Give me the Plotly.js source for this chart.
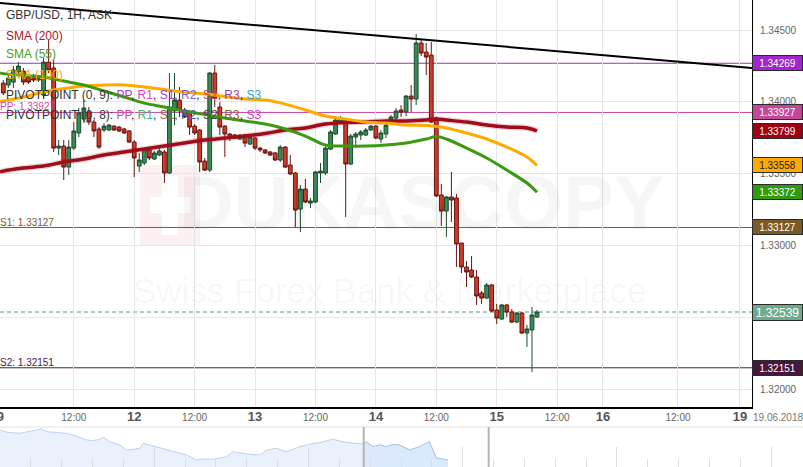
<!DOCTYPE html>
<html><head><meta charset="utf-8">
<script src="https://cdn.plot.ly/plotly-3.0.1.min.js"></script>
<style>html,body{margin:0;padding:0;background:#fff;overflow:hidden}#chart{width:803px;height:467px}</style>
</head><body><div id="chart"></div>
<script>
// ---- hourly GBP/USD candles (ASK) ----
const open = [
1.34131,1.34118,1.34138,1.34208,1.34215,1.34173,1.34180,1.34152,1.34048,1.34277,
1.34236,1.33679,1.33693,1.33547,1.33679,1.33784,1.33881,1.33930,1.33860,1.33812,
1.33805,1.33805,1.33832,1.33825,1.33812,1.33798,1.33721,1.33554,1.33575,1.33666,
1.33603,1.33631,1.33652,1.33506,1.33937,1.34013,1.33944,1.33930,1.33832,1.33805,
1.33589,1.33526,1.34201,1.33965,1.33832,1.33777,1.33770,1.33742,1.33770,1.33707,
1.33749,1.33679,1.33666,1.33652,1.33645,1.33596,1.33686,1.33561,1.33506,1.33255,
1.33394,1.33297,1.33304,1.33506,1.33506,1.33672,1.33777,1.33860,1.33874,1.33568,
1.33756,1.33770,1.33770,1.33805,1.33832,1.33742,1.33777,1.33860,1.33888,1.33944,
1.33930,1.34041,1.34020,1.34410,1.34347,1.34326,1.33888,1.33353,1.33241,1.33339,
1.33332,1.33019,1.32852,1.32831,1.32782,1.32671,1.32636,1.32727,1.32553,1.32490,
1.32588,1.32539,1.32469,1.32532,1.32393,1.32414,1.32504];
const high = [
1.34152,1.34187,1.34250,1.34277,1.34236,1.34187,1.34194,1.34180,1.34305,1.34430,
1.34291,1.33735,1.33735,1.33735,1.33860,1.33958,1.34013,1.33965,1.33874,1.33825,
1.33853,1.33846,1.33839,1.33832,1.33819,1.33805,1.33735,1.33645,1.33679,1.33679,
1.33659,1.33700,1.33666,1.34201,1.34201,1.34104,1.33958,1.33944,1.33846,1.33812,
1.33610,1.34208,1.34257,1.33999,1.33839,1.33784,1.33777,1.33777,1.33777,1.33763,
1.33756,1.33686,1.33672,1.33659,1.33652,1.33700,1.33693,1.33631,1.33513,1.33422,
1.33464,1.33332,1.33519,1.33575,1.33700,1.33805,1.33902,1.33902,1.33881,1.33777,
1.33791,1.33805,1.33819,1.33839,1.33839,1.33805,1.33874,1.33909,1.33958,1.33978,
1.34048,1.34118,1.34472,1.34437,1.34410,1.34417,1.33895,1.33429,1.33346,1.33513,
1.33360,1.33019,1.32894,1.32928,1.32831,1.32685,1.32741,1.32734,1.32595,1.32595,
1.32595,1.32560,1.32539,1.32539,1.32449,1.32574,1.32553];
const low = [
1.34048,1.34097,1.34097,1.34187,1.34118,1.34125,1.34138,1.34138,1.34027,1.34201,
1.33652,1.33631,1.33457,1.33492,1.33666,1.33756,1.33853,1.33839,1.33756,1.33672,
1.33791,1.33798,1.33798,1.33791,1.33777,1.33714,1.33478,1.33513,1.33561,1.33596,
1.33596,1.33624,1.33436,1.33499,1.33839,1.33895,1.33888,1.33770,1.33770,1.33513,
1.33519,1.33513,1.33965,1.33770,1.33617,1.33728,1.33742,1.33735,1.33686,1.33700,
1.33666,1.33652,1.33638,1.33624,1.33589,1.33582,1.33540,1.33492,1.33130,1.33095,
1.33297,1.33262,1.33297,1.33436,1.33492,1.33666,1.33770,1.33853,1.33200,1.33561,
1.33686,1.33735,1.33763,1.33798,1.33742,1.33714,1.33749,1.33839,1.33860,1.33895,
1.33902,1.33930,1.33978,1.34319,1.34187,1.33853,1.33339,1.33137,1.33061,1.33165,
1.32852,1.32810,1.32713,1.32775,1.32588,1.32595,1.32629,1.32539,1.32455,1.32483,
1.32504,1.32462,1.32462,1.32386,1.32296,1.32122,1.32497];
const close = [
1.34062,1.34166,1.34222,1.34250,1.34138,1.34138,1.34152,1.34166,1.34277,1.34222,
1.33679,1.33693,1.33547,1.33686,1.33798,1.33923,1.33958,1.33860,1.33798,1.33686,
1.33832,1.33839,1.33805,1.33798,1.33784,1.33721,1.33610,1.33596,1.33672,1.33610,
1.33645,1.33659,1.33506,1.33965,1.34013,1.33944,1.33895,1.33825,1.33784,1.33582,
1.33526,1.34201,1.34027,1.33825,1.33777,1.33756,1.33749,1.33763,1.33714,1.33756,
1.33679,1.33666,1.33645,1.33631,1.33596,1.33686,1.33547,1.33499,1.33248,1.33394,
1.33304,1.33311,1.33513,1.33519,1.33679,1.33791,1.33874,1.33881,1.33568,1.33763,
1.33777,1.33791,1.33805,1.33832,1.33749,1.33784,1.33839,1.33895,1.33937,1.33930,
1.34041,1.34020,1.34410,1.34340,1.34312,1.33860,1.33346,1.33241,1.33339,1.33318,
1.33012,1.32852,1.32817,1.32782,1.32650,1.32636,1.32727,1.32546,1.32497,1.32588,
1.32539,1.32469,1.32532,1.32393,1.32421,1.32518,1.32539];
const hourIdx = open.map((_, i) => i);

// ---- moving averages, read at sampled candle positions ----
const smaIdx = [-0.65,0,4,8,12,16,20,24,28,32,36,40,44,48,52,56,60,64,68,72,76,80,84,86,88,92,96,100,104,106];
const sma200 = [1.33513,1.33519,1.33540,1.33554,1.33582,1.33603,1.33631,1.33652,1.33672,1.33693,1.33714,1.33735,1.33749,1.33763,1.33780,1.33805,1.33819,1.33846,1.33857,1.33860,1.33867,1.33867,1.33874,1.33881,1.33874,1.33860,1.33839,1.33825,1.33819,1.33799];
const sma55  = [1.34201,1.34197,1.34184,1.34173,1.34145,1.34118,1.34076,1.34034,1.33992,1.33965,1.33937,1.33912,1.33888,1.33867,1.33846,1.33812,1.33763,1.33700,1.33693,1.33693,1.33700,1.33714,1.33742,1.33759,1.33742,1.33679,1.33610,1.33526,1.33436,1.33372];
const sma100 = [1.34003,1.34006,1.34034,1.34069,1.34093,1.34111,1.34118,1.34118,1.34104,1.34086,1.34069,1.34055,1.34038,1.34020,1.34013,1.33985,1.33944,1.33902,1.33881,1.33860,1.33853,1.33839,1.33836,1.33829,1.33819,1.33784,1.33742,1.33686,1.33617,1.33558];

// ---- trend line and pivot levels ----
const trendIdx = [-0.655, 148.7];
const trendVal = [1.34688, 1.34236];
const pivotR1 = 1.34269, pivotPP = 1.33927, pivotS1 = 1.33127, pivotS2 = 1.32151, lastClose = 1.32539;

// ---- x axis ticks ----
const xTickVals = [-0.6, 14, 26, 38, 50, 62, 74, 86, 98, 110, 119.1, 134, 146.3];
const xTickText = ['9','12:00','12','12:00','13','12:00','14','12:00','15','12:00','16','12:00','19'];

// ---- navigator (longer history) ----
const navX = [0,0.22,0.65,1.08,1.35,1.51,1.94,2.16,2.37,2.59,2.81,3.02,3.24,3.35,3.56,3.89,4.10,4.32,4.53,4.64,4.96,5.18,5.61,6.05,6.37,6.58,6.91,7.34,7.56,7.77,7.99,8.42,8.64,8.96,9.28,9.50,9.72,10.04,10.36,10.69,10.79,11.12,11.44,11.77,11.87,12.09,12.31,12.52,12.74,12.95,13.28,13.60,13.92,14.14,14.52];
const navY = [1.4295,1.4215,1.418,1.426,1.433,1.4236,1.420,1.418,1.412,1.404,1.3945,1.392,1.397,1.404,1.3886,1.377,1.3595,1.362,1.3655,1.383,1.3735,1.3655,1.3536,1.342,1.3245,1.328,1.327,1.336,1.3536,1.350,1.3455,1.342,1.3595,1.3655,1.3536,1.362,1.371,1.3805,1.385,1.3945,1.397,1.3886,1.383,1.3805,1.3886,1.371,1.377,1.371,1.379,1.377,1.3595,1.371,1.3886,1.3315,1.3245];
const navWindow = [11.79, 15.84];

// ---------------------------------------------------------------
const W = 803, H = 467;
const PX = x => x / W, PY = y => (H - y) / H;
const FONT = 'Liberation Sans, Arial, sans-serif';
const xDomEnd = 752 / W;

const dayStyle = t => '<span style="font-size:13px;font-weight:bold;color:#555">' + t + '</span>';
const tickText = xTickText.map(t => t.indexOf(':') >= 0 ? t : dayStyle(t));

const navSelX = [], navSelY = [];
navX.forEach((v, i) => { if (v >= navWindow[0] - 0.05) { navSelX.push(v); navSelY.push(navY[i]); } });

const traces = [
  {type:'scatter', x:navX, y:navY, xaxis:'x2', yaxis:'y2', mode:'lines', fill:'tozeroy',
   fillcolor:'#eaf1fc', line:{color:'#bcd2f3', width:1}, hoverinfo:'skip'},
  {type:'scatter', x:navSelX, y:navSelY, xaxis:'x2', yaxis:'y2', mode:'lines', fill:'tozeroy',
   fillcolor:'#dce8fb', line:{color:'#a9c5f0', width:1}, hoverinfo:'skip'},
  {type:'candlestick', x:hourIdx, open:open, high:high, low:low, close:close,
   xaxis:'x', yaxis:'y', whiskerwidth:0,
   increasing:{fillcolor:'#3b8a5a', line:{color:'#1c4a2c', width:1}},
   decreasing:{fillcolor:'#cf3b2b', line:{color:'#6a1510', width:1}},
   hoverinfo:'skip'},
  {type:'scatter', x:smaIdx, y:sma200, mode:'lines', line:{color:'rgba(160,16,32,0.18)', width:6, shape:'spline'}, hoverinfo:'skip'},
  {type:'scatter', x:smaIdx, y:sma200, mode:'lines', line:{color:'#a00c1a', width:3.5, shape:'spline'}, hoverinfo:'skip'},
  {type:'scatter', x:smaIdx, y:sma100, mode:'lines', line:{color:'#ffaa00', width:3, shape:'spline'}, hoverinfo:'skip'},
  {type:'scatter', x:smaIdx, y:sma55, mode:'lines', line:{color:'#3a9a10', width:3, shape:'spline'}, hoverinfo:'skip'},
  {type:'scatter', x:trendIdx, y:trendVal, mode:'lines', line:{color:'#000', width:2}, hoverinfo:'skip'}
];

const hline = (y, color, dash) => ({type:'line', xref:'x domain', x0:0, x1:1, yref:'y', y0:y, y1:y,
  line:{color:color, width:1, dash:dash || 'solid'}, layer:'below'});

const shapes = [
  // watermark logo
  {type:'rect', xref:'paper', yref:'paper', x0:PX(140), x1:PX(200), y0:PY(245), y1:PY(165), fillcolor:'#fcf0f0', line:{width:0}, layer:'below'},
  {type:'rect', xref:'paper', yref:'paper', x0:PX(162), x1:PX(178), y0:PY(235), y1:PY(175), fillcolor:'#ffffff', line:{width:0}, layer:'below'},
  {type:'rect', xref:'paper', yref:'paper', x0:PX(150), x1:PX(190), y0:PY(213), y1:PY(197), fillcolor:'#ffffff', line:{width:0}, layer:'below'},
  hline(pivotR1, '#a52bc4'),
  hline(pivotPP, '#c8479e'),
  hline(pivotS1, '#7a5a30'),
  hline(lastClose, '#4f9e70', '4px,3px'),
  hline(pivotS2, '#4a1a48'),
  // navigator frame + handles
  {type:'line', xref:'paper', yref:'paper', x0:0, x1:1, y0:PY(427), y1:PY(427), line:{color:'#e2e2e2', width:1}},
  {type:'line', xref:'x2', yref:'paper', x0:navWindow[0], x1:navWindow[0], y0:0, y1:PY(427), line:{color:'#b4b4b4', width:2}},
  {type:'line', xref:'x2', yref:'paper', x0:navWindow[1], x1:navWindow[1], y0:0, y1:PY(427), line:{color:'#b4b4b4', width:2}}
];

const txt = (x, y, text, size, color, extra) => Object.assign({xref:'paper', yref:'paper', x:PX(x), y:PY(y),
  xanchor:'left', yanchor:'middle', showarrow:false, text:text, font:{family:FONT, size:size, color:color}}, extra || {});
const sp = (c, t) => '<span style="color:' + c + '">' + t + '</span>';

const tag = (v, bg, fg, size, h) => ({xref:'paper', yref:'y', x:xDomEnd, y:v, xanchor:'left', yanchor:'middle',
  showarrow:false, text:v.toFixed(5), bgcolor:bg, bordercolor:'#2a2a2a', borderwidth:1, borderpad:1,
  width:47, height:h || 12, align:'center', font:{family:FONT, size:size || 10, color:fg}});

const annotations = [
  // watermark
  {xref:'paper', yref:'paper', x:PX(422), y:PY(203), xanchor:'center', yanchor:'middle', showarrow:false,
   text:'<b>DUKASCOPY</b>', font:{family:'Liberation Sans Narrow, Arial Narrow, sans-serif', size:76, color:'rgba(0,0,0,0.035)'}},
  {xref:'paper', yref:'paper', x:PX(390), y:PY(290), xanchor:'center', yanchor:'middle', showarrow:false,
   text:'Swiss Forex Bank &amp; Marketplace', font:{family:'Liberation Sans Narrow, Arial Narrow, sans-serif', size:35, color:'rgba(0,0,0,0.035)'}},
  // legend block
  txt(4, 15, 'GBP/USD, 1H, ASK', 12, '#333'),
  txt(4, 36, 'SMA (200)', 12, '#b0161e'),
  txt(4, 54, 'SMA (55)', 12, '#4a9e1e'),
  txt(4, 75, 'SMA (100)', 12, '#ffa500'),
  txt(4, 95, 'PIVOTPOINT (0, 9): ' + sp('#a83ad6','PP') + ', ' + sp('#e23fc6','R1') + ', ' + sp('#9b3fd0','S1') + ', ' +
     sp('#7566c9','R2') + ', ' + sp('#c2405a','S2') + ', ' + sp('#a040b8','R3') + ', ' + sp('#34a0d0','S3'), 12, '#333'),
  txt(-2, 107, 'PP: ' + pivotPP.toFixed(5), 10, '#d04aa4'),
  txt(4, 115, 'PIVOTPOINT (0, 8): ' + sp('#d04aa4','PP') + ', ' + sp('#36b48a','R1') + ', ' + sp('#8b6a3e','S1') + ', ' +
     sp('#4a62b0','R2') + ', ' + sp('#444','S2') + ', ' + sp('#9a6232','R3') + ', ' + sp('#cf3fcf','S3'), 12, '#333'),
  txt(-2, 222, 'S1: ' + pivotS1.toFixed(5), 10, '#7a5a30'),
  txt(-2, 362, 'S2: ' + pivotS2.toFixed(5), 10, '#4a1a48'),
  // date at right of x axis
  {xref:'paper', yref:'paper', x:PX(778), y:PY(417), xanchor:'center', yanchor:'middle', showarrow:false,
   text:'19.06.2018', font:{family:FONT, size:10, color:'#777'}},
  // right value tags
  tag(pivotR1, '#a126cf', '#fff'),
  tag(pivotPP, '#c4479c', '#fff'),
  tag(sma200[sma200.length-1], '#a0000f', '#fff'),
  tag(sma100[sma100.length-1], '#ffaa00', '#222'),
  tag(sma55[sma55.length-1], '#2f9a0c', '#fff'),
  tag(pivotS1, '#7b5a28', '#fff'),
  tag(lastClose, '#6dab8a', '#fff', 12, 13),
  tag(pivotS2, '#46163f', '#fff')
];

const yTicks = [1.320, 1.325, 1.330, 1.335, 1.340, 1.345];
const yTickText = yTicks.map(v => Math.abs(v - 1.325) < 1e-9 ? '' : v.toFixed(5));

const layout = {
  width:W, height:H, margin:{l:0, r:0, t:0, b:0}, paper_bgcolor:'#fff', plot_bgcolor:'rgba(0,0,0,0)',
  showlegend:false, hovermode:false, dragmode:false, boxgap:0.25, boxgroupgap:0,
  font:{family:FONT},
  xaxis:{domain:[0, xDomEnd], range:[-0.655, 148.7], anchor:'y', rangeslider:{visible:false},
    tickmode:'array', tickvals:xTickVals, ticktext:tickText, ticks:'', showgrid:true, gridcolor:'#e6e6e6', gridwidth:1,
    ticklabeloverflow:'allow',
    showline:true, linecolor:'#000', linewidth:1.5, zeroline:false, tickfont:{family:FONT, size:10, color:'#666'}, fixedrange:true},
  yaxis:{domain:[60/H, 1], range:[1.318783, 1.34709], anchor:'x', side:'right',
    tickmode:'array', tickvals:yTicks, ticktext:yTickText, ticks:'', showgrid:true, gridcolor:'#e6e6e6',
    showline:true, linecolor:'#000', linewidth:1, zeroline:false, ticklabelstandoff:5,
    tickfont:{family:FONT, size:10, color:'#666'}, fixedrange:true},
  xaxis2:{domain:[0,1], range:[0, 26.03], anchor:'y2', showgrid:false, showline:false, zeroline:false,
    showticklabels:false, ticks:'inside', tick0:0, dtick:5, ticklen:20, tickcolor:'#dddddd', tickwidth:1,
    minor:{ticks:'inside', dtick:1, ticklen:8, tickcolor:'#dddddd', tickwidth:1}, fixedrange:true},
  yaxis2:{domain:[0, 40/H], range:[1.30, 1.44], anchor:'x2', visible:false, fixedrange:true},
  shapes:shapes, annotations:annotations
};

Plotly.newPlot('chart', traces, layout, {staticPlot:true, displayModeBar:false});
</script></body></html>
